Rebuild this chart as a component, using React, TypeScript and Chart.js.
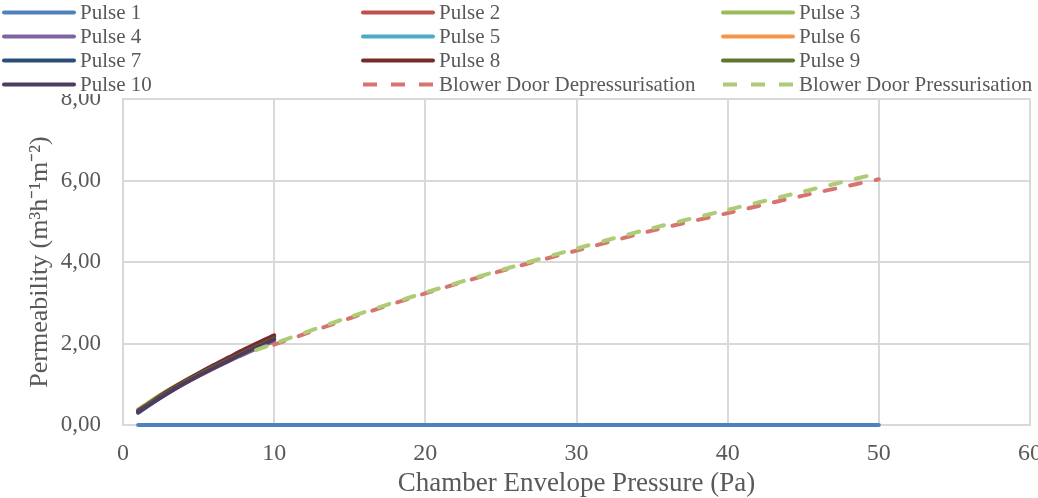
import React, { useEffect, useRef } from 'react';
import { Chart, registerables } from 'chart.js';

Chart.register(...registerables);

// ---- data ----
const pulsePressures = [1, 2, 3, 4, 5, 6, 7, 8, 9, 10];
const pulse1 = [0.30, 0.55, 0.79, 1.01, 1.22, 1.42, 1.61, 1.80, 1.98, 2.18];
const pulse2 = [0.33, 0.57, 0.80, 1.01, 1.21, 1.40, 1.58, 1.75, 1.91, 2.05];
const pulse3 = [0.38, 0.63, 0.86, 1.07, 1.26, 1.44, 1.61, 1.77, 1.92, 2.07];
const pulse4 = [0.32, 0.56, 0.79, 1.00, 1.20, 1.39, 1.57, 1.74, 1.91, 2.08];
const pulse5 = [0.34, 0.58, 0.81, 1.02, 1.22, 1.41, 1.59, 1.77, 1.94, 2.11];
const pulse6 = [0.33, 0.57, 0.80, 1.01, 1.21, 1.40, 1.58, 1.76, 1.93, 2.10];
const pulse7 = [0.31, 0.56, 0.80, 1.02, 1.23, 1.43, 1.62, 1.81, 1.99, 2.16];
const pulse8 = [0.35, 0.60, 0.84, 1.06, 1.27, 1.47, 1.66, 1.85, 2.03, 2.20];
const pulse9 = [0.33, 0.58, 0.81, 1.03, 1.23, 1.42, 1.60, 1.78, 1.95, 2.12];
const pulse10 = [0.32, 0.56, 0.79, 1.01, 1.21, 1.40, 1.58, 1.76, 1.93, 2.10];

const depressurisationPressures = [10, 15, 20, 25, 30, 35, 40, 45, 50];
const depressurisation = [1.97, 2.62, 3.23, 3.78, 4.28, 4.77, 5.20, 5.63, 6.03];
const pressurisationPressures = [8.8, 10, 15, 20, 25, 30, 35, 40, 45, 50];
const pressurisation = [1.84, 2.0, 2.65, 3.25, 3.80, 4.33, 4.83, 5.28, 5.73, 6.18];

const baselinePressures = [1, 50];
const baselineValues = [0, 0];

const pulseLabels = ['Pulse 1', 'Pulse 2', 'Pulse 3', 'Pulse 4', 'Pulse 5', 'Pulse 6', 'Pulse 7', 'Pulse 8', 'Pulse 9', 'Pulse 10'];
const pulseSeries = [pulse1, pulse2, pulse3, pulse4, pulse5, pulse6, pulse7, pulse8, pulse9, pulse10];
const pulseColors = ['#4F81BD', '#C0504D', '#9BBB59', '#8064A2', '#4BACC6', '#F79646', '#2C4D75', '#772C2A', '#5F7530', '#4D3B62'];
const blowerLabels = ['Blower Door Depressurisation', 'Blower Door Pressurisation'];
const blowerColors = ['#D6756F', '#AECB76'];

const xAxisTitle = 'Chamber Envelope Pressure (Pa)';
const yAxisTitle = 'Permeability (m³h⁻¹m⁻²)';
const xMin = 0, xMax = 60, xStep = 10;
const yMin = 0, yMax = 8, yStep = 2;

const FONT = '"Liberation Serif", "Times New Roman", serif';
const TEXT = '#595959';
const GRID = '#D9D9D9';

const toPoints = (xs: number[], ys: number[]) => xs.map((x, i) => ({ x, y: ys[i] }));

const legendPlugin = {
  id: 'gridLegend',
  afterDraw(chart: any) {
    const ctx = chart.ctx;
    ctx.save();
    ctx.fillStyle = '#FFFFFF';
    ctx.fillRect(0, 0, chart.width, 94);
    const items = chart.data.datasets.filter((d: any) => d.inLegend);
    const colX = [4, 363, 723];
    items.forEach((d: any, i: number) => {
      const col = i % 3;
      const row = Math.floor(i / 3);
      const y = 12.5 + row * 24;
      const x0 = colX[col];
      ctx.beginPath();
      ctx.strokeStyle = d.borderColor;
      ctx.lineWidth = 4;
      ctx.lineCap = d.borderDash ? 'butt' : 'round';
      ctx.setLineDash(d.borderDash ? [14, 14] : []);
      ctx.moveTo(x0, y);
      ctx.lineTo(x0 + 70, y);
      ctx.stroke();
      ctx.setLineDash([]);
      ctx.fillStyle = TEXT;
      ctx.font = `21px ${FONT}`;
      ctx.textBaseline = 'middle';
      ctx.textAlign = 'left';
      ctx.fillText(d.label, x0 + 76, y + 1);
    });
    ctx.restore();
  },
};

export default function App() {
  const ref = useRef<HTMLCanvasElement | null>(null);

  useEffect(() => {
    document.body.style.margin = '0';
    const canvas = ref.current;
    if (!canvas) return;

    const datasets: any[] = [];
    pulseSeries.forEach((vals, i) => {
      datasets.push({
        label: pulseLabels[i],
        data: toPoints(pulsePressures, vals),
        borderColor: pulseColors[i],
        backgroundColor: pulseColors[i],
        borderWidth: 4,
        pointRadius: 0,
        tension: 0.3,
        borderCapStyle: 'round',
        borderJoinStyle: 'round',
        fill: false,
        order: 20 - i,
        inLegend: true,
      });
    });
    datasets.push({
      label: blowerLabels[0],
      data: toPoints(depressurisationPressures, depressurisation),
      borderColor: blowerColors[0],
      backgroundColor: blowerColors[0],
      borderWidth: 4,
      borderDash: [11, 15],
      borderCapStyle: 'round',
      pointRadius: 0,
      tension: 0.3,
      fill: false,
      order: 2,
      inLegend: true,
    });
    datasets.push({
      label: blowerLabels[1],
      data: toPoints(pressurisationPressures, pressurisation),
      borderColor: blowerColors[1],
      backgroundColor: blowerColors[1],
      borderWidth: 4,
      borderDash: [11, 15],
      borderCapStyle: 'round',
      pointRadius: 0,
      tension: 0.3,
      fill: false,
      order: 1,
      inLegend: true,
    });
    datasets.push({
      label: 'baseline',
      data: toPoints(baselinePressures, baselineValues),
      borderColor: pulseColors[0],
      backgroundColor: pulseColors[0],
      borderWidth: 4,
      borderCapStyle: 'round',
      pointRadius: 0,
      fill: false,
      clip: false,
      order: 30,
      inLegend: false,
    });

    const chart = new Chart(canvas, {
      type: 'line',
      data: { datasets },
      options: {
        animation: false,
        responsive: false,
        devicePixelRatio: 1,
        layout: { padding: { top: 99, right: 8, left: 0, bottom: 0 } },
        plugins: { legend: { display: false }, tooltip: { enabled: false } },
        scales: {
          x: {
            type: 'linear',
            min: xMin,
            max: xMax,
            ticks: {
              stepSize: xStep,
              color: TEXT,
              font: { family: FONT, size: 24, lineHeight: 1 },
              padding: 17,
              maxRotation: 0,
            },
            grid: { color: GRID, lineWidth: 2, drawTicks: false },
            border: { color: GRID, width: 2 },
            title: {
              display: true,
              text: xAxisTitle,
              color: TEXT,
              font: { family: FONT, size: 27, lineHeight: 1 },
              padding: { top: 0, bottom: 1 },
            },
            afterFit: (scale: any) => {
              scale.height = 73;
              scale.paddingRight = 0;
              scale.paddingLeft = 0;
            },
          },
          y: {
            type: 'linear',
            min: yMin,
            max: yMax,
            ticks: {
              stepSize: yStep,
              color: TEXT,
              font: { family: FONT, size: 23 },
              padding: 22,
              callback: (v: any) => Number(v).toFixed(2).replace('.', ','),
            },
            grid: { color: GRID, lineWidth: 2, drawTicks: false },
            border: { color: GRID, width: 2 },
            title: {
              display: true,
              text: yAxisTitle,
              color: TEXT,
              font: { family: FONT, size: 26, lineHeight: 1 },
              padding: { top: 27, bottom: 0 },
            },
            afterFit: (scale: any) => {
              scale.width = 123;
              scale.paddingTop = 0;
              scale.paddingBottom = 0;
            },
          },
        },
      } as any,
      plugins: [legendPlugin],
    });

    return () => chart.destroy();
  }, []);

  return (
    <div style={{ width: 1038, height: 498 }}>
      <canvas ref={ref} width={1038} height={498} style={{ display: 'block', width: 1038, height: 498 }} />
    </div>
  );
}
